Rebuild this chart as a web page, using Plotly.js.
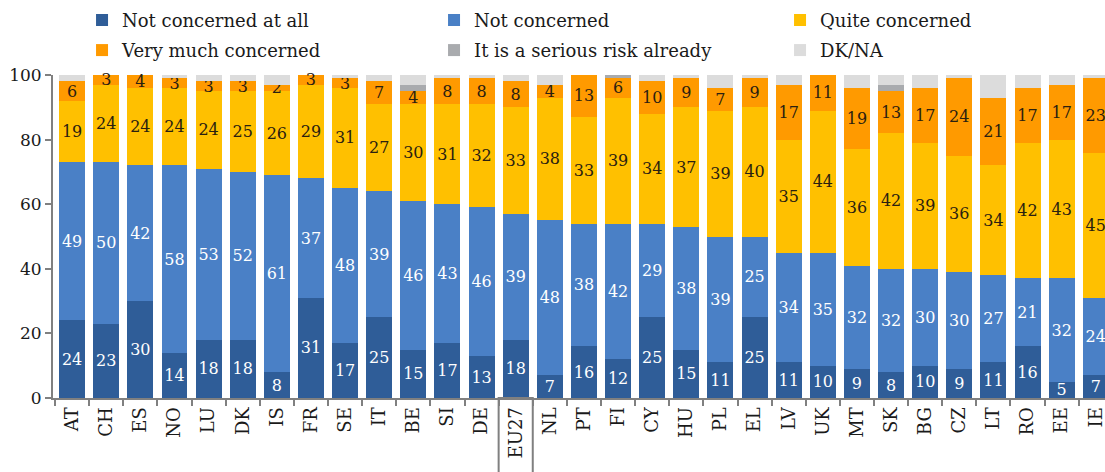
<!DOCTYPE html>
<html>
<head>
<meta charset="utf-8">
<script src="https://cdn.plot.ly/plotly-3.0.1.min.js"></script>
<style>
  html, body { margin: 0; padding: 0; background: #ffffff; }
  #chart { width: 1105px; height: 472px; }
</style>
</head>
<body>
<div id="chart"></div>
<script>
const countries = ['AT','CH','ES','NO','LU','DK','IS','FR','SE','IT','BE','SI','DE','EU27','NL','PT','FI','CY','HU','PL','EL','LV','UK','MT','SK','BG','CZ','LT','RO','EE','IE'];
const notConcernedAtAll = [24,23,30,14,18,18,8,31,17,25,15,17,13,18,7,16,12,25,15,11,25,11,10,9,8,10,9,11,16,5,7];
const notConcerned = [49,50,42,58,53,52,61,37,48,39,46,43,46,39,48,38,42,29,38,39,25,34,35,32,32,30,30,27,21,32,24];
const quiteConcerned = [19,24,24,24,24,25,26,29,31,27,30,31,32,33,38,33,39,34,37,39,40,35,44,36,42,39,36,34,42,43,45];
const veryMuchConcerned = [6,3,4,3,3,3,2,3,3,7,4,8,8,8,4,13,6,10,9,7,9,17,11,19,13,17,24,21,17,17,23];
const seriousRiskAlready = [0,0,0,0,0,0,0,0,0,0,2,0,0,0,0,0,1,0,0,0,0,0,0,0,2,0,0,0,0,0,0];
const dkna = [2,0,0,1,2,2,3,0,1,2,3,1,1,2,3,0,0,2,1,4,1,3,0,4,3,4,1,7,4,3,1];
const highlighted = 'EU27';

const seriesNames = ['Not concerned at all','Not concerned','Quite concerned','Very much concerned','It is a serious risk already','DK/NA'];
const seriesColors = ['#2f5d98','#4a80c6','#ffc000','#ff9a00','#a9abae','#dcdcdc'];
const labelColors = ['#ffffff','#ffffff','#2a2010','#2a2010',null,null];
const seriesValues = [notConcernedAtAll, notConcerned, quiteConcerned, veryMuchConcerned, seriousRiskAlready, dkna];

// legend grid: 3 columns x 2 rows (paper coordinates)
const legendCols = [0.0276, 0.3622, 0.6911];
const legendRows = [1.227, 1.1335];

const SERIF = 'DejaVu Serif, Liberation Serif, serif';

const legendIds = seriesNames.map((_, i) => i === 0 ? 'legend' : 'legend' + (i + 1));

const traces = seriesValues.map((vals, i) => {
  const t = {
    type: 'bar',
    name: seriesNames[i],
    legend: legendIds[i],
    x: countries,
    y: vals,
    marker: { color: seriesColors[i], line: { width: 0 } },
    hoverinfo: 'x+y+name'
  };
  if (labelColors[i]) {
    t.text = vals.map(String);
    t.textposition = 'inside';
    t.insidetextanchor = 'middle';
    t.textangle = 0;
    t.constraintext = 'none';
    t.cliponaxis = false;
    t.textfont = { family: SERIF, size: 16, color: labelColors[i] };
  } else {
    t.textposition = 'none';
  }
  return t;
});

const hi = countries.indexOf(highlighted);

const layout = {
  width: 1105,
  height: 472,
  margin: { l: 53, r: 0, t: 75, b: 74 },
  paper_bgcolor: '#ffffff',
  plot_bgcolor: '#ffffff',
  barmode: 'stack',
  bargap: 0.24,
  showlegend: true,
  xaxis: {
    type: 'category',
    range: [-0.56, 30.27],
    showline: true,
    linecolor: '#808080',
    linewidth: 2,
    ticks: 'outside',
    tickson: 'boundaries',
    ticklen: 6,
    tickcolor: '#808080',
    tickwidth: 2,
    tickangle: -90,
    tickfont: { family: SERIF, size: 18, color: '#1a1a1a' },
    showgrid: false,
    zeroline: false,
    fixedrange: true
  },
  yaxis: {
    range: [0, 100],
    tickvals: [0, 20, 40, 60, 80, 100],
    showline: true,
    linecolor: '#808080',
    linewidth: 2,
    ticks: 'outside',
    ticklen: 6,
    tickcolor: '#808080',
    tickwidth: 2,
    tickfont: { family: SERIF, size: 17, color: '#1a1a1a' },
    showgrid: false,
    zeroline: false,
    fixedrange: true
  },
  shapes: [{
    type: 'rect',
    xref: 'x',
    yref: 'paper',
    x0: hi - 0.5,
    x1: hi + 0.5,
    y0: 0,
    y1: -0.35,
    line: { color: '#808080', width: 2 },
    fillcolor: 'rgba(0,0,0,0)',
    layer: 'above'
  }]
};

legendIds.forEach((id, i) => {
  layout[id] = {
    orientation: 'h',
    x: legendCols[i % 3],
    xanchor: 'left',
    y: legendRows[Math.floor(i / 3)],
    yanchor: 'top',
    itemwidth: 30,
    font: { family: SERIF, size: 18, color: '#1a1a1a' },
    bgcolor: 'rgba(0,0,0,0)'
  };
});

Plotly.newPlot('chart', traces, layout, { displayModeBar: false, staticPlot: true });
</script>
</body>
</html>
